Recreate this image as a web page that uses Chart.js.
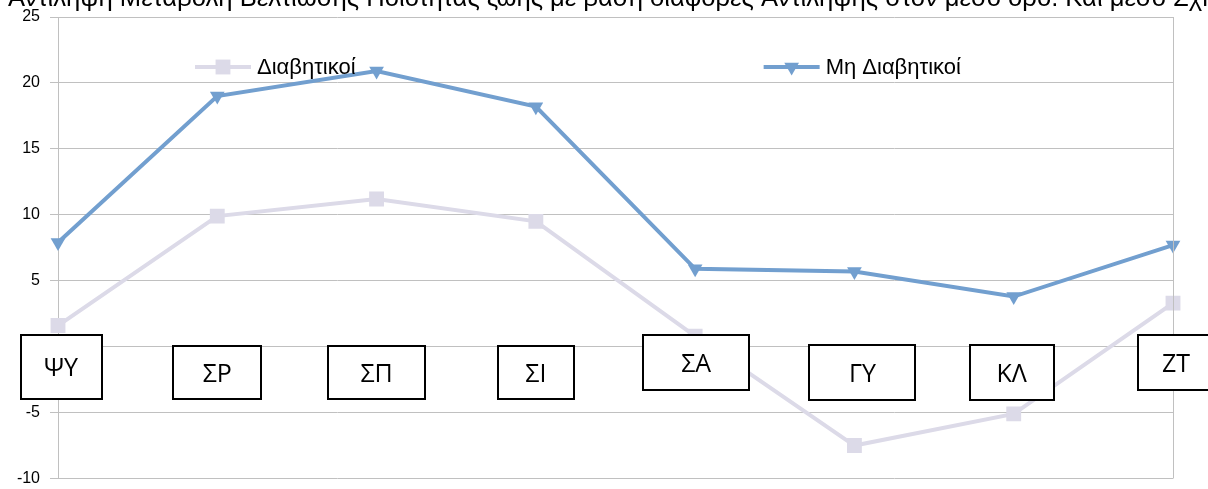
<!DOCTYPE html>
<html>
<head>
<meta charset="utf-8">
<script src="https://cdn.jsdelivr.net/npm/chart.js@4/dist/chart.umd.min.js"></script>
<style>
  html, body { margin: 0; padding: 0; background: #fff; }
  #wrap { width: 1208px; height: 489px; }
</style>
</head>
<body>
<div id="wrap"><canvas id="chart"></canvas></div>
<script>
const categories = ['ΨΥ', 'ΣΡ', 'ΣΠ', 'ΣΙ', 'ΣΑ', 'ΓΥ', 'ΚΛ', 'ΖΤ'];
const diabetic = [1.6, 9.9, 11.2, 9.5, 0.8, -7.5, -5.1, 3.3];
const nonDiabetic = [7.9, 19.0, 20.9, 18.2, 5.9, 5.7, 3.8, 7.7];
const seriesNames = ['Διαβητικοί', 'Μη Διαβητικοί'];
const yTicks = [-10, -5, 0, 5, 10, 15, 20, 25];
const titleText = 'Αντίληψη Μεταβολή Βελτίωσης Ποιότητας ζωής με βάση διαφορές Αντίληψης στον μέσο όρο. Και μέσο Σχήμα';

// label box layout: offset from category x, top relative to the zero line, width, height
const boxLayout = [
  {dx: 3, top: -12, w: 81, h: 64},
  {dx: 0, top: -1, w: 88, h: 53},
  {dx: 0, top: -1, w: 97, h: 53},
  {dx: 0, top: -1, w: 76, h: 53},
  {dx: 1, top: -12, w: 106, h: 55},
  {dx: 8, top: -2, w: 106, h: 55},
  {dx: -2, top: -2, w: 84, h: 55},
  {dx: 3, top: -12, w: 76, h: 55}
];

const GREY = 'rgb(220,218,232)';
const BLUE = 'rgb(114,159,207)';
const GRID = '#c0c0c0';

const extras = {
  id: 'extras',
  beforeDraw(chart) {
    const ctx = chart.ctx;
    ctx.save();
    ctx.fillStyle = '#fff';
    ctx.fillRect(0, 0, chart.width, chart.height);
    ctx.fillStyle = '#000';
    ctx.font = '25.6px "Liberation Sans", Arial, sans-serif';
    ctx.textBaseline = 'alphabetic';
    ctx.textAlign = 'left';
    ctx.fillText(titleText, 8, 6);
    ctx.restore();
  },
  afterDatasetsDraw(chart) {
    const ctx = chart.ctx;
    const xs = chart.scales.x;
    const ys = chart.scales.y;
    const area = chart.chartArea;
    ctx.save();
    // right border of plot
    ctx.strokeStyle = GRID;
    ctx.lineWidth = 1;
    ctx.beginPath();
    ctx.moveTo(Math.round(area.right) + 0.5, area.top);
    ctx.lineTo(Math.round(area.right) + 0.5, area.bottom);
    ctx.stroke();

    // category boxes
    const zero = ys.getPixelForValue(0);
    ctx.font = '25px "Open Sans", sans-serif';
    ctx.textAlign = 'center';
    ctx.textBaseline = 'alphabetic';
    categories.forEach((c, i) => {
      const b = boxLayout[i];
      const cx = xs.getPixelForValue(i) + b.dx;
      const top = Math.round(zero + b.top);
      const left = Math.round(cx - b.w / 2);
      ctx.fillStyle = '#fff';
      ctx.fillRect(left, top, b.w, b.h);
      ctx.strokeStyle = '#000';
      ctx.lineWidth = 2;
      ctx.strokeRect(left, top, b.w, b.h);
      ctx.fillStyle = '#000';
      ctx.fillText(c, cx, top + b.h / 2 + 9);
    });

    // legend
    ctx.font = '22px "Liberation Sans", Arial, sans-serif';
    ctx.textAlign = 'left';
    ctx.textBaseline = 'middle';
    const legendY = Math.round(ys.getPixelForValue(21.2));
    const items = [
      {x: xs.getPixelForValue(0.86), ds: chart.data.datasets[0]},
      {x: xs.getPixelForValue(4.43), ds: chart.data.datasets[1]}
    ];
    items.forEach(it => {
      const ds = it.ds;
      ctx.strokeStyle = ds.borderColor;
      ctx.lineWidth = ds.borderWidth;
      ctx.beginPath();
      ctx.moveTo(it.x, legendY);
      ctx.lineTo(it.x + 56, legendY);
      ctx.stroke();
      ctx.fillStyle = ds.pointBackgroundColor;
      ctx.strokeStyle = ds.pointBackgroundColor;
      Chart.helpers.drawPoint(ctx, {
        pointStyle: ds.pointStyle,
        rotation: ds.pointRotation || 0,
        radius: ds.pointRadius,
        borderWidth: 0
      }, it.x + 28, legendY);
      ctx.fillStyle = '#000';
      ctx.fillText(ds.label, it.x + 62, legendY + 1);
    });
    ctx.restore();
  }
};

new Chart(document.getElementById('chart'), {
  type: 'line',
  data: {
    labels: categories,
    datasets: [
      {
        label: seriesNames[0],
        data: diabetic,
        borderColor: GREY,
        borderWidth: 4,
        pointStyle: 'rect',
        pointRadius: 10.5,
        pointBackgroundColor: GREY,
        pointBorderWidth: 0,
        tension: 0
      },
      {
        label: seriesNames[1],
        data: nonDiabetic,
        borderColor: BLUE,
        borderWidth: 4,
        pointStyle: 'triangle',
        pointRotation: 180,
        pointRadius: 8.5,
        pointBackgroundColor: BLUE,
        pointBorderWidth: 0,
        tension: 0
      }
    ]
  },
  options: {
    responsive: true,
    maintainAspectRatio: false,
    animation: false,
    layout: {padding: {top: 17, right: 35, bottom: 4, left: 0}},
    plugins: {
      legend: {display: false},
      tooltip: {enabled: false}
    },
    scales: {
      x: {
        display: false,
        offset: false
      },
      y: {
        min: yTicks[0],
        max: yTicks[yTicks.length - 1],
        afterBuildTicks(scale) {
          scale.ticks = yTicks.map(v => ({value: v}));
        },
        afterFit(scale) {
          scale.width = 58;
          scale.paddingTop = 0;
          scale.paddingBottom = 0;
        },
        grid: {color: GRID, lineWidth: 1, tickLength: 8},
        border: {color: GRID},
        ticks: {
          color: '#000',
          padding: 10,
          font: {family: '"Liberation Sans", Arial, sans-serif', size: 16}
        }
      }
    }
  },
  plugins: [extras]
});
</script>
</body>
</html>
